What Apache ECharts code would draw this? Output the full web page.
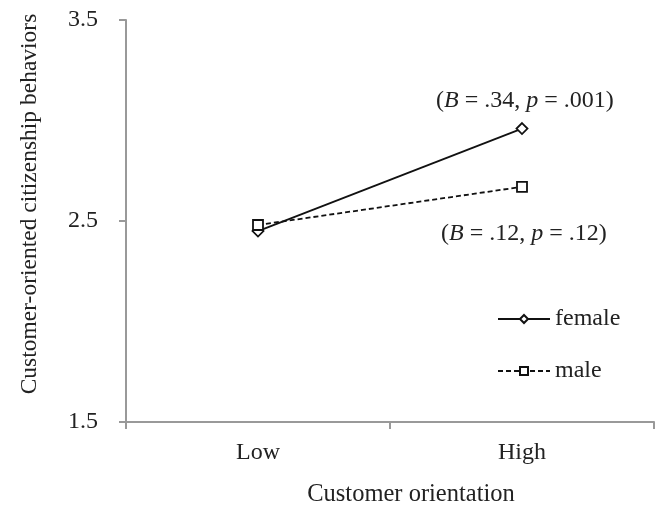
<!DOCTYPE html>
<html><head><meta charset="utf-8">
<script src="https://cdn.jsdelivr.net/npm/echarts@6/dist/echarts.min.js"></script>
<style>html,body{margin:0;padding:0;background:#fff}#c{width:670px;height:505px}</style>
</head><body><div id="c"></div>
<script>
const categories = ['Low', 'High'];
const femaleValues = [2.45, 2.96];
const maleValues = [2.48, 2.67];
const yTicks = [1.5, 2.5, 3.5];
const seriesNames = ['female', 'male'];

const font = 'Liberation Serif';
const fs = 24;
const chart = echarts.init(document.getElementById('c'));
chart.setOption({
  animation: false,
  backgroundColor: '#fff',
  grid: { left: 126, right: 16, top: 20, bottom: 83, containLabel: false, outerBoundsMode: 'none' },
  xAxis: {
    type: 'category', data: categories, boundaryGap: true,
    name: 'Customer orientation', nameLocation: 'middle', nameGap: 60,
    nameTextStyle: { fontFamily: font, fontSize: 24.5, color: '#222', padding: [0, 0, 0, 42] },
    axisLine: { lineStyle: { color: '#999', width: 2 } },
    axisTick: { show: true, length: 7, lineStyle: { color: '#999', width: 2 } },
    axisLabel: { fontFamily: font, fontSize: fs, color: '#222', margin: 19 }
  },
  yAxis: {
    type: 'value', min: yTicks[0], max: yTicks[yTicks.length - 1], interval: 1,
    name: 'Customer-oriented citizenship behaviors', nameLocation: 'middle', nameGap: 84,
    nameTextStyle: { fontFamily: font, fontSize: 23.5, color: '#222', padding: [0, 0, 0, 34] },
    axisLine: { show: true, lineStyle: { color: '#999', width: 2 } },
    axisTick: { show: true, length: 7, lineStyle: { color: '#999', width: 2 } },
    axisLabel: { fontFamily: font, fontSize: fs, color: '#222', margin: 28,
      formatter: v => v.toFixed(1) },
    splitLine: { show: false }
  },
  legend: {
    orient: 'vertical', left: 492, top: 302, itemGap: 28,
    itemWidth: 52, itemHeight: 10,
    textStyle: { fontFamily: font, fontSize: fs, color: '#222' },
    data: seriesNames
  },
  series: [
    { name: seriesNames[0], type: 'line', data: femaleValues,
      symbol: 'diamond', symbolSize: 11,
      lineStyle: { color: '#111', width: 1.8 },
      itemStyle: { color: '#fff', borderColor: '#111', borderWidth: 1.8 } },
    { name: seriesNames[1], type: 'line', data: maleValues,
      symbol: 'rect', symbolSize: 10,
      lineStyle: { color: '#111', width: 1.8, type: [5, 3] },
      itemStyle: { color: '#fff', borderColor: '#111', borderWidth: 1.8 } }
  ],
  graphic: [
    { type: 'text', left: 436, top: 89, style: {
      text: '(\u007bi|B\u007d = .34, \u007bi|p\u007d = .001)', fontFamily: font, fontSize: fs, fill: '#222',
      rich: { i: { fontStyle: 'italic', fontFamily: font, fontSize: fs, fill: '#222' } } } },
    { type: 'text', left: 441, top: 222, style: {
      text: '(\u007bi|B\u007d = .12, \u007bi|p\u007d = .12)', fontFamily: font, fontSize: fs, fill: '#222',
      rich: { i: { fontStyle: 'italic', fontFamily: font, fontSize: fs, fill: '#222' } } } }
  ]
});
</script></body></html>
